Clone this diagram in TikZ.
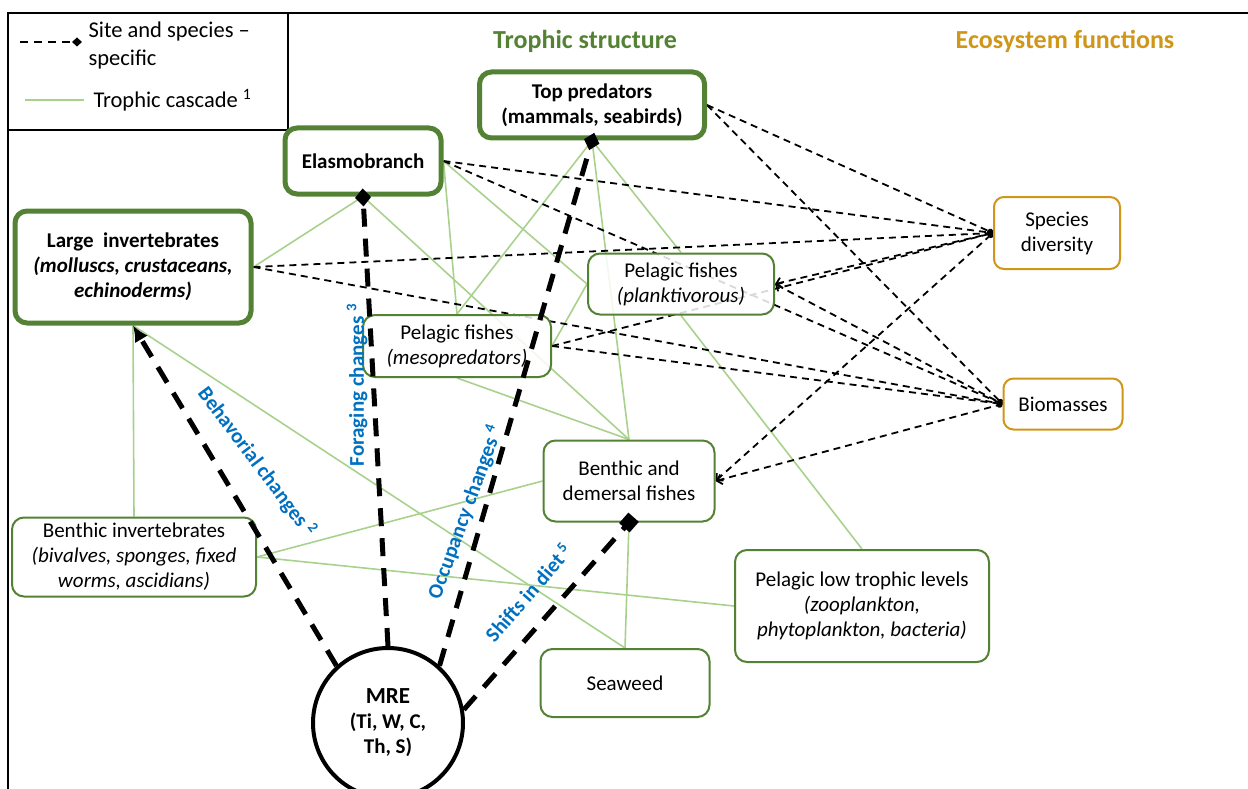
\documentclass[tikz,border=0pt]{standalone}
\usepackage{fontspec}
\setmainfont{Carlito}
\usepackage{xcolor}
\usepackage{tikz}
\usetikzlibrary{backgrounds}
\usetikzlibrary{arrows.meta}

\definecolor{trophgreen}{RGB}{84,130,53}
\definecolor{cascgreen}{RGB}{169,209,142}
\definecolor{ecoorange}{RGB}{207,150,25}
\definecolor{effblue}{RGB}{0,112,192}

\begin{document}
\begin{tikzpicture}[x=1pt, y=-1pt,
	every node/.style={font=\fontsize{21}{25}\selectfont, align=center},
	topbox/.style={draw=trophgreen, line width=5pt, rounded corners=12pt, fill=white, fill opacity=0.85, text opacity=1, inner sep=2pt, font=\fontsize{21}{25}\selectfont\bfseries},
	lowbox/.style={draw=trophgreen, line width=2pt, rounded corners=12pt, fill=white, fill opacity=0.85, text opacity=1, inner sep=2pt},
	funcbox/.style={draw=ecoorange, line width=2pt, rounded corners=10pt, fill=white, inner sep=2pt},
	cascade/.style={cascgreen, line width=1.6pt},
	sitespec/.style={black, line width=1.8pt, dash pattern=on 7pt off 5pt, -{Circle[length=6pt]}},
	sitespecarr/.style={sitespec, {Straight Barb[length=5pt,width=10pt]}-{Circle[length=6pt]}},
	mreline/.style={black, line width=5pt, dash pattern=on 18pt off 12pt},
	effect/.style={text=effblue, font=\fontsize{21}{25}\selectfont\bfseries}]
	\useasboundingbox (0,0) rectangle (1248,789);
	% frame and legend
	\draw[line width=2.5pt] (8,789) -- (8,13) -- (1248,13);
	\draw[line width=2.5pt] (8,130) -- (288,130) -- (288,13);
	\coordinate (lgdA) at (20,42);
	\coordinate (lgdB) at (82,42);
	\coordinate (lgcA) at (25,100);
	\coordinate (lgcB) at (84,100);
	\draw[line width=2.5pt, dash pattern=on 8pt off 6pt, -{Diamond[length=10pt,width=9pt]}] (lgdA) -- (lgdB);
	\draw[cascade] (lgcA) -- (lgcB);
	\node[anchor=west, align=left, font=\fontsize{22.5}{28}\selectfont] (lgsite) at (85,46) {Site and species --\\specific};
	\node[anchor=west, font=\fontsize{22.5}{28}\selectfont] (lgcasc) at (90,100) {Trophic cascade \textsuperscript{1}};
	% headings
	\node[font=\fontsize{26}{30}\selectfont\bfseries, text=trophgreen] (trophhead) at (585,41) {Trophic structure};
	\node[font=\fontsize{26}{30}\selectfont\bfseries, text=ecoorange] (ecohead) at (1065,41) {Ecosystem functions};
	% trophic structure
	\node[topbox, minimum width=225pt, minimum height=66pt] (tp) at (592,105) {Top predators\\(mammals, seabirds)};
	\node[topbox, minimum width=156pt, minimum height=66pt] (el) at (363,161) {Elasmobranch};
	\node[topbox, minimum width=236pt, minimum height=112pt] (li) at (133,267) {Large\ \ invertebrates\\\textit{(molluscs, crustaceans,}\\\textit{echinoderms)}};
	\node[lowbox, minimum width=186pt, minimum height=61pt] (plank) at (681,284) {Pelagic fishes\\\textit{(planktivorous)}};
	\node[lowbox, minimum width=188pt, minimum height=62pt] (meso) at (457,346) {Pelagic fishes\\\textit{(mesopredators)}};
	\node[lowbox, minimum width=171pt, minimum height=81pt] (bd) at (629,481) {Benthic and\\demersal fishes};
	\node[lowbox, minimum width=244pt, minimum height=79pt] (bi) at (134,557) {Benthic invertebrates\\\textit{(bivalves, sponges, fixed}\\\textit{worms, ascidians)}};
	\node[lowbox, minimum width=254pt, minimum height=112pt] (ltl) at (862,606) {Pelagic low trophic levels\\\textit{(zooplankton,}\\\textit{phytoplankton, bacteria)}};
	\node[lowbox, minimum width=169pt, minimum height=68pt] (sw) at (625,683) {Seaweed};
	% ecosystem functions
	\node[funcbox, minimum width=126pt, minimum height=72pt] (sd) at (1057,233) {Species\\diversity};
	\node[funcbox, minimum width=119pt, minimum height=51pt] (bio) at (1063,404) {Biomasses};
	% MRE
	\node[circle, draw=black, line width=4pt, fill=white, minimum size=150pt, inner sep=0pt, font=\fontsize{21}{25}\selectfont\bfseries] (mre) at (388,723) {\fontsize{23}{25}\selectfont MRE\\(Ti, W, C,\\Th, S)};
	\begin{scope}[on background layer]
		\draw[cascade] (li.south) -- (bi.north);
		\draw[cascade] (li.south) -- (sw.north);
		\draw[cascade] (li.east) -- (el.south);
		\draw[cascade] (el.south) -- (bd.north);
		\draw[cascade] (el.east) -- (meso.north);
		\draw[cascade] (el.east) -- (plank.west);
		\draw[cascade] (tp.south) -- (meso.north);
		\draw[cascade] (tp.south) -- (bd.north);
		\draw[cascade] (tp.south) -- (plank.north);
		\draw[cascade] (plank.west) -- (meso.east);
		\draw[cascade] (plank.south) -- (ltl.north);
		\draw[cascade] (meso.south) -- (bd.north);
		\draw[cascade] (bi.east) -- (bd.west);
		\draw[cascade] (bi.east) -- (ltl.west);
		\draw[cascade] (bd.south) -- (sw.north);
		\draw[sitespec] (tp.east) -- (sd.west);
		\draw[sitespec] (tp.east) -- (bio.west);
		\draw[sitespec] (el.east) -- (sd.west);
		\draw[sitespec] (el.east) -- (bio.west);
		\draw[sitespec] (li.east) -- (sd.west);
		\draw[sitespec] (li.east) -- (bio.west);
		\draw[sitespec] (meso.east) -- (sd.west);
		\draw[sitespec] (meso.east) -- (bio.west);
		\draw[sitespecarr] (plank.east) -- (sd.west);
		\draw[sitespecarr] (plank.east) -- (bio.west);
		\draw[sitespecarr] (bd.east) -- (sd.west);
		\draw[sitespecarr] (bd.east) -- (bio.west);
	\end{scope}
	% MRE effects
	\draw[mreline, -{Latex[length=16pt,width=15pt]}] (mre.132) -- (li.south);
	\draw[mreline, -{Diamond[length=18pt,width=16pt]}, shorten >=-8pt] (mre.north) -- (el.south);
	\draw[mreline, -{Diamond[length=18pt,width=16pt]}, shorten >=-8pt] (mre.48) -- (tp.south);
	\draw[mreline, -{Square[length=14pt,width=14pt]}, shorten >=-7pt] (mre.10) -- (bd.south);
	\node[effect, rotate=-53] (behav) at (257,462) {Behavorial changes \textsuperscript{2}};
	\node[effect, rotate=90] (forag) at (357,385) {Foraging changes \textsuperscript{3}};
	\node[effect, rotate=70] (occup) at (465,512) {Occupancy changes \textsuperscript{4}};
	\node[effect, rotate=49] (shift) at (528,592) {Shifts in diet \textsuperscript{5}};
\end{tikzpicture}
\end{document}
